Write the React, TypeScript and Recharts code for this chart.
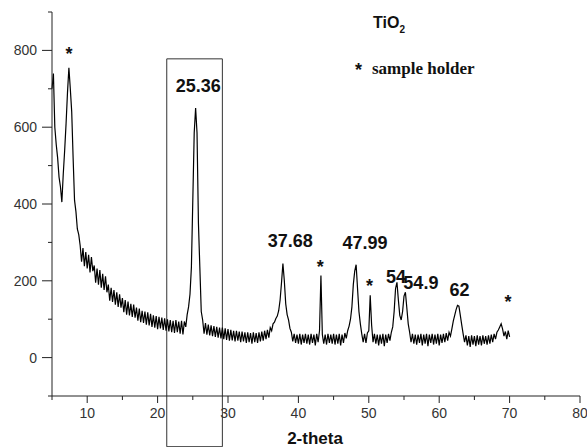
import React from "react";
import { Line, LineChart, ReferenceArea, ReferenceDot, XAxis, YAxis } from "recharts";

// scan grid (degrees 2-theta)
const scanStart = 5;
const scanStep = 0.2;

// counts, one row per 2 degrees
const intensity = [
  700, 740, 600, 555, 520, 470, 445, 405, 478, 540,
  610, 690, 755, 700, 640, 520, 410, 380, 335, 320,
  292, 250, 285, 238, 275, 232, 268, 222, 262, 225,
  240, 195, 232, 190, 228, 182, 218, 176, 212, 170,
  190, 148, 182, 145, 176, 138, 170, 132, 165, 130,
  155, 118, 150, 112, 146, 110, 140, 106, 138, 104,
  130, 96, 128, 92, 122, 90, 120, 86, 118, 84,
  114, 80, 110, 78, 108, 74, 106, 76, 104, 72,
  102, 70, 100, 68, 98, 66, 96, 64, 98, 66,
  94, 62, 96, 60, 94, 80, 112, 132, 165, 235,
  410, 585, 650, 585, 350, 235, 120, 98, 62, 90,
  60, 86, 58, 84, 56, 82, 54, 80, 52, 78,
  50, 78, 48, 76, 46, 74, 44, 72, 45, 70,
  42, 70, 44, 68, 40, 68, 42, 66, 38, 66,
  40, 64, 36, 66, 40, 64, 38, 66, 42, 68,
  44, 70, 48, 72, 52, 78, 70, 88, 92, 102,
  108, 122, 150, 195, 245, 200, 140, 112, 98, 76,
  66, 42, 62, 38, 60, 36, 62, 34, 60, 38,
  62, 36, 60, 34, 62, 38, 60, 32, 62, 40,
  70, 214, 60, 36, 60, 34, 62, 38, 60, 36,
  62, 34, 60, 36, 62, 32, 60, 38, 64, 50,
  70, 82, 100, 132, 190, 225, 242, 180, 120, 88,
  62, 40, 62, 38, 64, 70, 162, 85, 40, 62,
  36, 60, 32, 60, 36, 62, 30, 60, 38, 62,
  44, 66, 80, 120, 180, 196, 150, 110, 98, 120,
  160, 170, 130, 88, 66, 40, 62, 36, 60, 34,
  60, 38, 62, 32, 60, 36, 62, 30, 60, 38,
  62, 34, 60, 36, 62, 32, 60, 38, 62, 40,
  64, 44, 66, 56, 75, 95, 110, 125, 136, 134,
  110, 85, 62, 40, 58, 32, 56, 28, 58, 34,
  56, 30, 58, 34, 56, 32, 58, 36, 56, 34,
  58, 36, 60, 40, 62, 48, 66, 72, 80, 88,
  75, 56, 68, 48, 70, 54,
];

const xTicks = [5, 10, 15, 20, 25, 30, 35, 40, 45, 50, 55, 60, 65, 70, 75, 80];
const yTicks = [-100, 0, 100, 200, 300, 400, 500, 600, 700, 800, 900];

// anatase peak labels and sample-holder reflections
const peakLabels = ["25.36", "37.68", "47.99", "54", "54.9", "62"];
const peakLabelAt: [number, number][] = [
  [25.77, 706], [38.85, 303], [49.45, 298], [53.86, 211], [57.4, 193], [62.9, 175],
];
const holderAt: [number, number][] = [[7.42, 801], [43.12, 246], [50.1, 197], [69.77, 154]];

// the framed region around the main peak
const frame = { x1: 21.3, x2: 29.2, y1: -232, y2: 778 };

const data = intensity.map((v, i) => ({ t: +(scanStart + i * scanStep).toFixed(1), v }));

const sans = "'Liberation Sans', Arial, sans-serif";
const axisColor = "#222";

function XTick({ x, y, payload }: any) {
  const major = payload.value % 10 === 0;
  return (
    <g>
      <line x1={x} x2={x} y1={y} y2={y + (major ? 7 : 4)} stroke={axisColor} />
      {major && (
        <text x={x} y={y + 22} textAnchor="middle" fontFamily={sans} fontSize={14} fill="#333">
          {payload.value}
        </text>
      )}
    </g>
  );
}

function YTick({ x, y, payload }: any) {
  const major = payload.value % 200 === 0 && payload.value >= 0 && payload.value <= 800;
  return (
    <g>
      <line x1={x - (major ? 10 : 4)} x2={x} y1={y} y2={y} stroke={axisColor} />
      {major && (
        <text x={x - 15} y={y + 5} textAnchor="end" fontFamily={sans} fontSize={14} fill="#333">
          {payload.value}
        </text>
      )}
    </g>
  );
}

function MarkText({ viewBox, text, size, lift }: any) {
  const cx = viewBox.x + viewBox.width / 2;
  const cy = viewBox.y + viewBox.height / 2;
  return (
    <text x={cx} y={cy + lift} textAnchor="middle" fontFamily={sans} fontWeight="bold" fontSize={size} fill="#111">
      {text}
    </text>
  );
}

export default function App() {
  return (
    <div style={{ position: "absolute", left: 0, top: 0, width: 587, height: 447, background: "#fff" }}>
      <LineChart width={587} height={447} data={data} margin={{ top: 12, right: 7, bottom: 0, left: 0 }}>
        <XAxis
          type="number" dataKey="t" domain={[5, 80]} ticks={xTicks} interval={0} height={51}
          tickSize={0} tickMargin={0} tickLine={false} axisLine={{ stroke: axisColor }} tick={<XTick />}
        />
        <YAxis
          type="number" domain={[-100, 900]} ticks={yTicks} interval={0} width={52}
          tickSize={0} tickMargin={0} tickLine={false} axisLine={{ stroke: axisColor }} tick={<YTick />}
        />
        <ReferenceArea {...frame} fill="none" stroke="#333" strokeWidth={1} ifOverflow="visible" />
        <Line type="linear" dataKey="v" stroke="#000" strokeWidth={1.2} dot={false} isAnimationActive={false} />
        {peakLabels.map((s, i) => (
          <ReferenceDot key={s} x={peakLabelAt[i][0]} y={peakLabelAt[i][1]} r={2} fill="none" stroke="none"
            label={<MarkText text={s} size={18} lift={6} />} />
        ))}
        {holderAt.map(([hx, hy]) => (
          <ReferenceDot key={hx} x={hx} y={hy} r={2} fill="none" stroke="none"
            label={<MarkText text="*" size={18} lift={10} />} />
        ))}
      </LineChart>
      <svg width={587} height={447} style={{ position: "absolute", left: 0, top: 0, pointerEvents: "none" }}>
        <text x={373} y={28} fontFamily={sans} fontWeight="bold" fontSize={16} fill="#111">
          TiO<tspan fontSize={10} dy={5}>2</tspan>
        </text>
        <text x={355} y={76} fontFamily={sans} fontWeight="bold" fontSize={18} fill="#111">*</text>
        <text x={372} y={74} fontFamily="'Liberation Serif', 'Times New Roman', serif" fontWeight="bold" fontSize={17} fill="#111">
          sample holder
        </text>
        <text x={315} y={444} textAnchor="middle" fontFamily={sans} fontWeight="bold" fontSize={17} fill="#111">
          2-theta
        </text>
      </svg>
    </div>
  );
}
